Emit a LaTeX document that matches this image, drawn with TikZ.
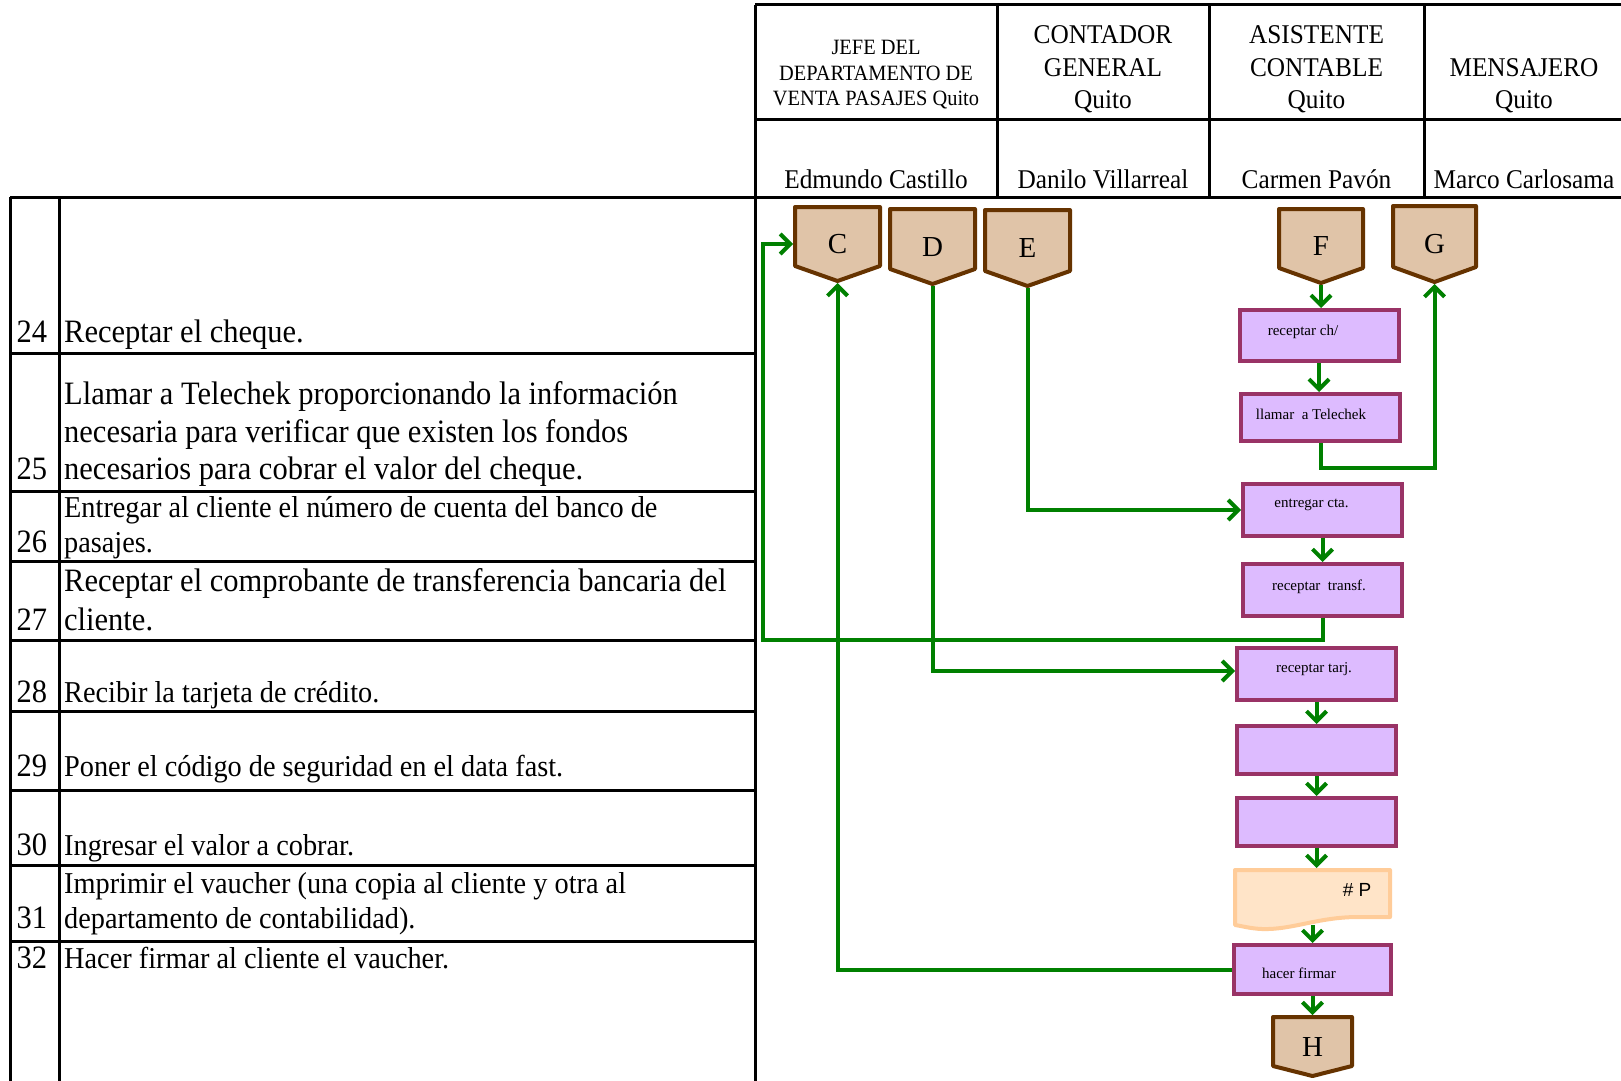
\documentclass[tikz,border=0pt]{standalone}
\usepackage{graphicx}
\usepackage{fontspec}
\setmainfont{Liberation Serif}
\newfontfamily\arialf{Liberation Sans}
\usetikzlibrary{arrows.meta,calc}

\definecolor{flowgreen}{HTML}{008000}
\definecolor{tanfill}{HTML}{E0C4A8}
\definecolor{tanline}{HTML}{663300}
\definecolor{procfill}{HTML}{DDBBFF}
\definecolor{procline}{HTML}{993366}
\definecolor{docfill}{HTML}{FFE4C8}
\definecolor{docline}{HTML}{FFCC99}

% slightly tall lettering, as set in the spreadsheet
\newcommand{\tx}[1]{\scalebox{1}[1.07]{#1}}

\begin{document}
\begin{tikzpicture}[x=1pt, y=-1pt,
  tabline/.style={line width=3pt, black},
  hdbig/.style={anchor=base, inner sep=0pt, font=\fontsize{25.3}{30}\selectfont},
  hdsmall/.style={anchor=base, inner sep=0pt, font=\fontsize{20.4}{24}\selectfont},
  rowtxt/.style={anchor=base west, inner sep=0pt, font=\fontsize{30.5}{36}\selectfont},
  rowsm/.style={anchor=base west, inner sep=0pt, font=\fontsize{28.3}{34}\selectfont},
  proc/.style={draw=procline, fill=procfill, line width=4pt, inner sep=0pt, minimum width=159pt},
  boxlbl/.style={inner sep=0pt, font=\fontsize{15}{18}\selectfont},
  offnode/.style={inner sep=0pt, outer sep=0pt},
  offshape/.style={draw=tanline, fill=tanfill, line width=4pt, line join=round},
  offletter/.style={inner sep=0pt, font=\fontsize{29}{34}\selectfont},
  docshape/.style={draw=docline, fill=docfill, line width=4pt, line join=round},
  flow/.style={draw=flowgreen, line width=4pt, -{Straight Barb[length=10pt,width=20pt]}},
]
\useasboundingbox (0,0) rectangle (1621,1080);
\fill[white] (0,0) rectangle (1621,1080);
\clip (0,0) rectangle (1621,1080);

% ---------- header grid ----------
\draw[tabline] (755,4.5) -- (1630,4.5);
\draw[tabline] (755,119) -- (1630,119);
\draw[tabline] (10,197) -- (1630,197);
\draw[tabline] (755,4.5) -- (755,1090);
\foreach \x in {997,1209,1424} \draw[tabline] (\x,4.5) -- (\x,197);

% ---------- left table grid ----------
\draw[tabline] (10,197) -- (10,1090);
\draw[tabline] (59,197) -- (59,1090);
\foreach \y in {353,491,561,640,711,790,865,941} \draw[tabline] (10,\y) -- (755,\y);

% ---------- header texts ----------
\node[hdsmall] (h1a) at (876,54) {\tx{JEFE DEL}};
\node[hdsmall] (h1b) at (876,80) {\tx{DEPARTAMENTO DE}};
\node[hdsmall] (h1c) at (876,105) {\tx{VENTA PASAJES Quito}};
\node[hdbig] (h2a) at (1103,43) {\tx{CONTADOR}};
\node[hdbig] (h2b) at (1103,76) {\tx{GENERAL}};
\node[hdbig] (h2c) at (1103,108) {\tx{Quito}};
\node[hdbig] (h3a) at (1316.5,43) {\tx{ASISTENTE}};
\node[hdbig] (h3b) at (1316.5,76) {\tx{CONTABLE}};
\node[hdbig] (h3c) at (1316.5,108) {\tx{Quito}};
\node[hdbig] (h4a) at (1524,76) {\tx{MENSAJERO}};
\node[hdbig] (h4b) at (1524,108) {\tx{Quito}};
\node[hdbig] (p1) at (876,188) {\tx{Edmundo Castillo}};
\node[hdbig] (p2) at (1103,188) {\tx{Danilo Villarreal}};
\node[hdbig] (p3) at (1316.5,188) {\tx{Carmen Pavón}};
\node[hdbig] (p4) at (1524,188) {\tx{Marco Carlosama}};

% ---------- step numbers and descriptions ----------
\node[rowtxt] (n24) at (16.5,342) {\tx{24}};
\node[rowtxt] (t24) at (64,342) {\tx{Receptar el cheque.}};
\node[rowtxt] (t25a) at (64,404) {\tx{Llamar a Telechek proporcionando la información}};
\node[rowtxt] (t25b) at (64,442) {\tx{necesaria para verificar que existen los fondos}};
\node[rowtxt] (n25) at (16.5,479) {\tx{25}};
\node[rowtxt] (t25c) at (64,479) {\tx{necesarios para cobrar el valor del cheque.}};
\node[rowsm] (t26a) at (64,517) {\tx{Entregar al cliente el número de cuenta del banco de}};
\node[rowtxt] (n26) at (16.5,552) {\tx{26}};
\node[rowsm] (t26b) at (64,552) {\tx{pasajes.}};
\node[rowtxt] (t27a) at (64,591) {\tx{Receptar el comprobante de transferencia bancaria del}};
\node[rowtxt] (n27) at (16.5,630) {\tx{27}};
\node[rowtxt] (t27b) at (64,630) {\tx{cliente.}};
\node[rowtxt] (n28) at (16.5,702) {\tx{28}};
\node[rowsm] (t28) at (64,702) {\tx{Recibir la tarjeta de crédito.}};
\node[rowtxt] (n29) at (16.5,776) {\tx{29}};
\node[rowsm] (t29) at (64,776) {\tx{Poner el código de seguridad en el data fast.}};
\node[rowtxt] (n30) at (16.5,855) {\tx{30}};
\node[rowsm] (t30) at (64,855) {\tx{Ingresar el valor a cobrar.}};
\node[rowsm] (t31a) at (64,893) {\tx{Imprimir el vaucher (una copia al cliente y otra al}};
\node[rowtxt] (n31) at (16.5,928) {\tx{31}};
\node[rowsm] (t31b) at (64,928) {\tx{departamento de contabilidad).}};
\node[rowtxt] (n32) at (16.5,968) {\tx{32}};
\node[rowsm] (t32) at (64,968) {\tx{Hacer firmar al cliente el vaucher.}};

% ---------- off-page connectors ----------
\foreach \n/\cx/\tp/\tip/\dp/\w in {C/837.5/207/281/15/85, D/932.5/209/284/15/85,
    E/1027.5/210/286/15/85, F/1321/209/283/15/84, G/1434.5/206/282/15/83,
    H/1312.5/1017/1076/10/79} {
  \pgfmathsetmacro{\hh}{\tip-\tp}
  \pgfmathsetmacro{\cy}{(\tip+\tp)/2}
  \node[offnode, minimum width=\w pt, minimum height=\hh pt] (\n) at (\cx,\cy) {};
  \draw[offshape] (\n.north west) -- (\n.north east) -- ([yshift=\dp pt]\n.south east)
     -- (\n.south) -- ([yshift=\dp pt]\n.south west) -- cycle;
  \node[offletter] (lbl\n) at (\n) {\n};
}

% ---------- process boxes ----------
\node[proc, minimum height=51pt] (rch) at (1319,335.5) {};
\node[boxlbl, xshift=-16pt, yshift=3.5pt] (rchT) at (rch) {receptar ch/};
\node[proc, minimum height=47pt] (tel) at (1320.5,417.5) {};
\node[boxlbl, xshift=-9.5pt, yshift=3.5pt] (telT) at (tel) {llamar\ \ a Telechek};
\node[proc, minimum height=52pt] (ent) at (1322.5,510) {};
\node[boxlbl, xshift=-11pt, yshift=5pt] (entT) at (ent) {entregar cta.};
\node[proc, minimum height=52pt] (trf) at (1322.5,590) {};
\node[boxlbl, xshift=-3.5pt, yshift=3pt] (trfT) at (trf) {receptar\ \ transf.};
\node[proc, minimum height=52pt] (tarj) at (1316.5,674) {};
\node[boxlbl, xshift=-2.5pt, yshift=5pt] (tarjT) at (tarj) {receptar tarj.};
\node[proc, minimum height=48pt] (b6) at (1316.5,750) {};
\node[proc, minimum height=48pt] (b7) at (1316.5,822) {};
\node[proc, minimum height=49pt, minimum width=157pt] (hf) at (1312.5,969.5) {};
\node[boxlbl, xshift=-13.5pt, yshift=-3.5pt] (hfT) at (hf) {hacer firmar};

% ---------- printed document ----------
\node[offnode, minimum width=155pt, minimum height=55pt] (doc) at (1312.5,897.5) {};
\draw[docshape] (1235,870) -- (1390,870) -- (1390,917) -- (1358,917)
   .. controls (1318,917) and (1292,930) .. (1262,929)
   .. controls (1250,928.5) and (1242,926) .. (1235,925) -- cycle;
\node[inner sep=0pt, font=\arialf\fontsize{19}{22}\selectfont] (docT) at (1357,890) {\# P};

% ---------- flow ----------
\coordinate (cbend) at (763,640);
\draw[flow, shorten <=2pt] (F.south) -- (F.south |- rch.north);
\draw[flow] (rch.south) -- (rch.south |- tel.north);
\draw[flow, shorten >=2pt] (tel.south) -- ++(0,25) -| (G.south);
\draw[flow, shorten <=2pt] (E.south) |- (ent.west);
\draw[flow] (ent.south) -- (ent.south |- trf.north);
\draw[flow, shorten >=2pt] (trf.south) |- (cbend) |- (C.west);
\draw[flow, shorten <=2pt] (D.south) |- ([yshift=3pt]tarj.west);
\draw[flow] (tarj.south) -- (tarj.south |- b6.north);
\draw[flow] (b6.south) -- (b6.south |- b7.north);
\draw[flow, shorten >=2pt] (b7.south) -- (b7.south |- doc.north);
\draw[flow] (doc.south) -- (doc.south |- hf.north);
\draw[flow, shorten >=2pt] (hf.south) -- (hf.south |- H.north);
\draw[flow, shorten >=2pt] (hf.west) -| (C.south);
\end{tikzpicture}
\end{document}
